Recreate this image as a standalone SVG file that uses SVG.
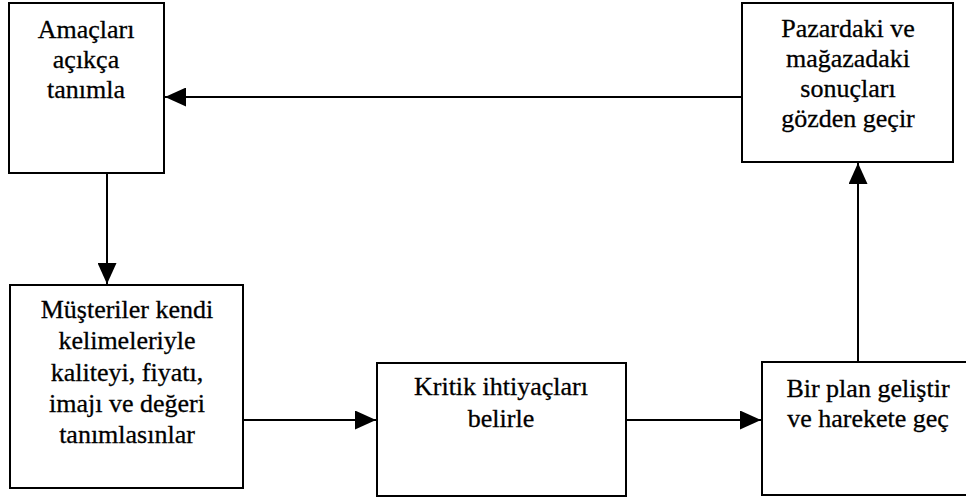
<svg xmlns="http://www.w3.org/2000/svg" width="966" height="503" viewBox="0 0 966 503">
  <style>
    .box { fill: #ffffff; stroke: #000000; stroke-width: 2; }
    .lbl { font-family: "Liberation Serif", "Times New Roman", serif; font-size: 26px; fill: #000000; stroke: #000000; stroke-width: 0.3; text-anchor: middle; }
    .conn { stroke: #000000; stroke-width: 2; fill: none; marker-end: url(#head); }
  </style>
  <defs>
    <marker id="head" viewBox="0 0 21 19" refX="21" refY="9.5" markerWidth="21" markerHeight="19" markerUnits="userSpaceOnUse" orient="auto">
      <path d="M0,0 L21,9.5 L0,19 Z" fill="#000000"/>
    </marker>
  </defs>
  <rect width="966" height="503" fill="#ffffff"/>

  <g id="connectors">
    <line class="conn" x1="742" y1="97" x2="165" y2="97"/>
    <line class="conn" x1="107" y1="173" x2="107" y2="284"/>
    <line class="conn" x1="243" y1="420" x2="376" y2="420"/>
    <line class="conn" x1="626" y1="420" x2="761" y2="420"/>
    <line class="conn" x1="858" y1="362" x2="858" y2="163"/>
  </g>

  <g id="amaclari">
    <rect class="box" x="9" y="3" width="155" height="170"/>
    <text class="lbl" x="86" y="38">Amaçları</text>
    <text class="lbl" x="86" y="68">açıkça</text>
    <text class="lbl" x="86" y="98">tanımla</text>
  </g>

  <g id="pazardaki">
    <rect class="box" x="742" y="3" width="211" height="159"/>
    <text class="lbl" x="848" y="37">Pazardaki ve</text>
    <text class="lbl" x="848" y="67">mağazadaki</text>
    <text class="lbl" x="848" y="97">sonuçları</text>
    <text class="lbl" x="848" y="127">gözden geçir</text>
  </g>

  <g id="musteriler">
    <rect class="box" x="10" y="285" width="233" height="203"/>
    <text class="lbl" x="127" y="318">Müşteriler kendi</text>
    <text class="lbl" x="127" y="349">kelimeleriyle</text>
    <text class="lbl" x="127" y="381">kaliteyi, fiyatı,</text>
    <text class="lbl" x="127" y="412">imajı ve değeri</text>
    <text class="lbl" x="127" y="443">tanımlasınlar</text>
  </g>

  <g id="kritik">
    <rect class="box" x="377" y="363" width="249" height="133"/>
    <text class="lbl" x="501" y="395">Kritik ihtiyaçları</text>
    <text class="lbl" x="501" y="427">belirle</text>
  </g>

  <g id="plan">
    <rect class="box" x="762" y="362" width="213" height="133"/>
    <text class="lbl" x="868" y="397">Bir plan geliştir</text>
    <text class="lbl" x="868" y="427">ve harekete geç</text>
  </g>
</svg>
